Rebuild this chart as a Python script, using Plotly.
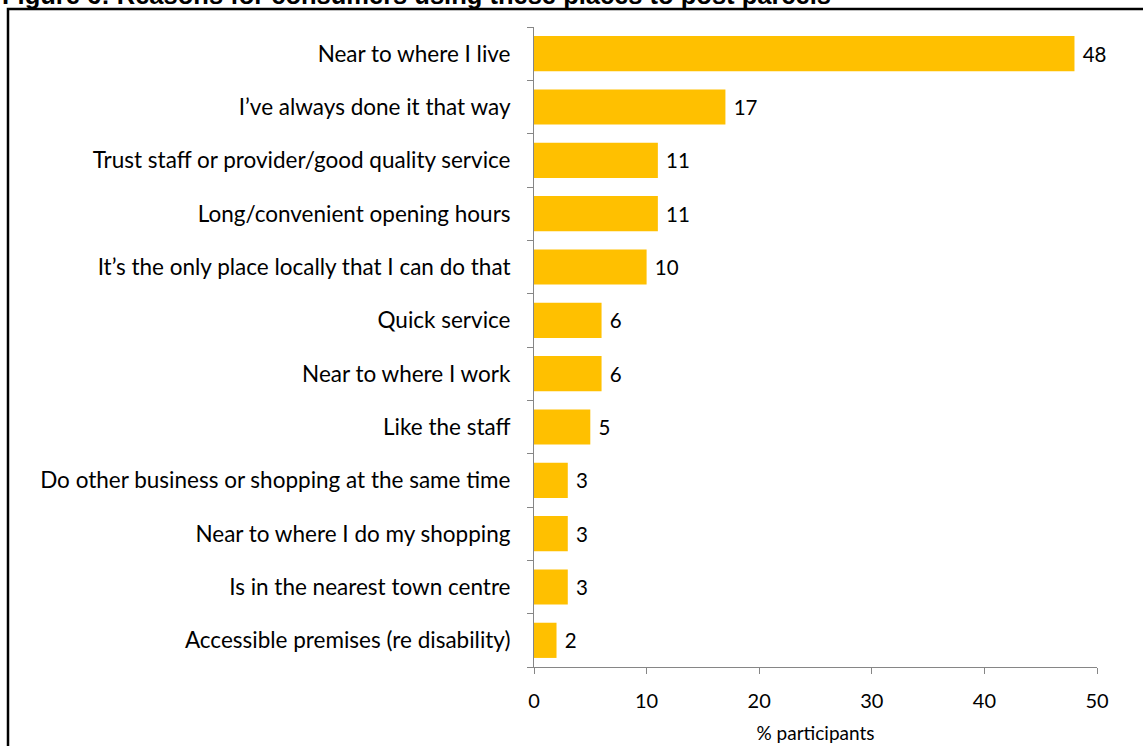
import plotly.graph_objects as go

# Reasons, listed top to bottom
reasons = [
    "Near to where I live",
    "I\u2019ve always done it that way",
    "Trust staff or provider/good quality service",
    "Long/convenient opening hours",
    "It\u2019s the only place locally that I can do that",
    "Quick service",
    "Near to where I work",
    "Like the staff",
    "Do other business or shopping at the same time",
    "Near to where I do my shopping",
    "Is in the nearest town centre",
    "Accessible premises (re disability)",
]
percent = [48, 17, 11, 11, 10, 6, 6, 5, 3, 3, 3, 2]
x_ticks = [0, 10, 20, 30, 40, 50]

W, H = 1143, 746
L, R, T, B = 534, 46, 27, 79
pw, ph = W - L - R, H - T - B

def px_x(x):
    return (x - L) / pw

def px_y(y):
    return 1 - (y - T) / ph

FONT = "Lato, Open Sans, sans-serif"

fig = go.Figure(
    go.Bar(
        x=percent,
        y=reasons,
        orientation="h",
        marker=dict(color="#FFC000", line=dict(width=0)),
        texttemplate="\u00a0%{x}",
        textposition="outside",
        textfont=dict(size=20.5, color="#000000", family=FONT),
        cliponaxis=False,
    )
)

fig.update_layout(
    width=W,
    height=H,
    margin=dict(l=L, r=R, t=T, b=B, pad=0, autoexpand=False),
    paper_bgcolor="white",
    plot_bgcolor="white",
    bargap=0.34,
    showlegend=False,
    font=dict(family=FONT, size=20, color="#000000"),
    xaxis=dict(
        range=[0, 50],
        tickvals=x_ticks,
        ticks="outside",
        ticklen=6,
        tickcolor="#868686",
        showline=True,
        linecolor="#868686",
        linewidth=1,
        showgrid=False,
        zeroline=False,
        automargin=False,
        tickfont=dict(size=20, family=FONT),
        ticklabelstandoff=10,
        title=dict(text="% participants", font=dict(size=19, family=FONT), standoff=15),
    ),
    yaxis=dict(
        categoryorder="array",
        categoryarray=reasons[::-1],
        ticks="outside",
        tickson="boundaries",
        ticklen=6,
        tickcolor="#868686",
        showline=True,
        linecolor="#868686",
        linewidth=1,
        showgrid=False,
        zeroline=False,
        automargin=False,
        tickfont=dict(size=22.5, family=FONT),
        ticklabelstandoff=18,
    ),
    shapes=[
        dict(
            type="rect",
            xref="paper",
            yref="paper",
            x0=px_x(8),
            x1=px_x(1150),
            y0=px_y(760),
            y1=px_y(9),
            line=dict(color="#000000", width=2.5),
            fillcolor="rgba(0,0,0,0)",
            layer="below",
        )
    ],
    annotations=[
        dict(
            text="<b>Figure 6: Reasons for consumers using these places to post parcels</b>",
            xref="paper",
            yref="paper",
            x=px_x(0),
            y=px_y(11),
            xanchor="left",
            yanchor="bottom",
            showarrow=False,
            font=dict(family="Liberation Sans, Arial, sans-serif", size=25.5, color="#000000"),
        )
    ],
)

fig.write_html("out.html")
